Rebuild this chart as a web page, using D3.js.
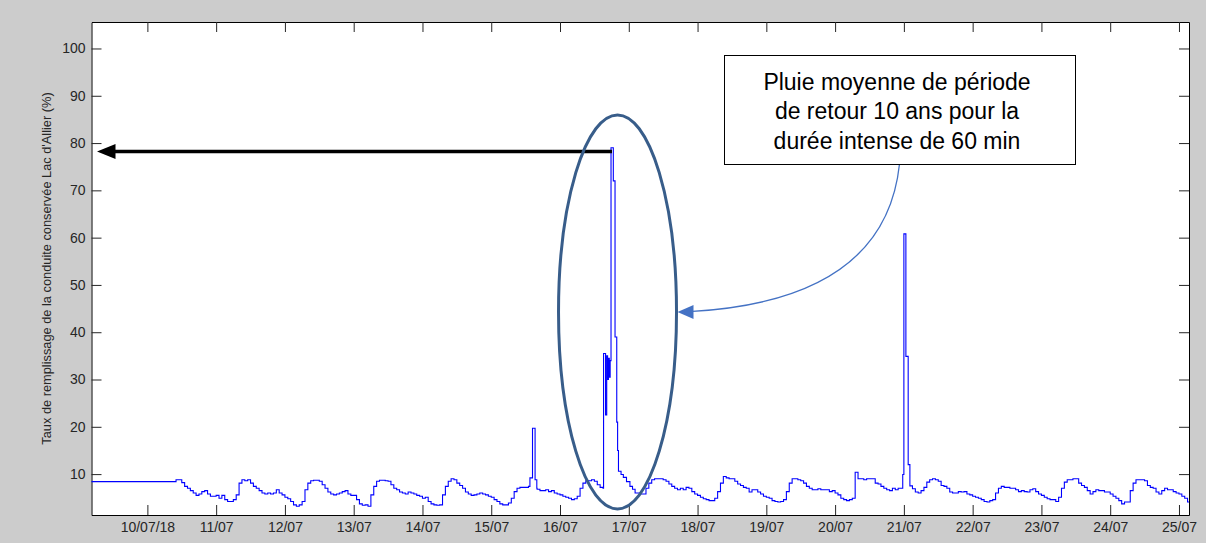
<!DOCTYPE html>
<html>
<head>
<meta charset="utf-8">
<script src="https://cdn.jsdelivr.net/npm/d3@7"></script>
<style>
  body { margin: 0; background: #cccccc; }
  svg { display: block; font-family: Arial, "Liberation Sans", sans-serif; }
</style>
</head>
<body>
<div class="graph"></div>
<script>
// taux de remplissage (%), relevé horaire ; chaque tableau commence à l'heure indiquée
let flatLevel = 8.4; // palier avant le 10/07 10h
let jul10 = [8.8, 8.8, 8.2, 7.4, 7.0, 6.5, 6.0, 5.5, 5.8, 6.3, 6.5, 5.8, 5.3, 5.3]; // dès 10h
let jul11 = [5.5, 4.9, 5.5, 4.6, 4.2, 4.2, 4.6, 5.6, 8.1, 8.8, 8.6, 8.8, 8.1, 7.4, 7.0, 6.5, 6.0, 5.8, 6.0, 5.8, 6.0, 6.7, 6.0, 5.6];
let jul12 = [5.1, 4.8, 4.2, 3.5, 3.2, 3.5, 4.2, 6.7, 8.1, 8.6, 8.7, 8.7, 8.5, 7.75, 7.0, 6.2, 5.8, 5.6, 5.8, 6.0, 6.3, 6.5, 5.8, 5.5];
let jul13 = [5.5, 4.6, 3.7, 3.4, 3.5, 3.2, 5.6, 7.4, 8.5, 8.7, 8.7, 8.6, 8.5, 7.75, 7.0, 6.7, 6.2, 6.0, 5.8, 6.2, 6.0, 5.8, 5.5, 5.3];
let jul14 = [4.9, 5.1, 4.2, 3.7, 3.5, 3.4, 3.5, 5.6, 7.4, 8.5, 9.0, 8.8, 8.1, 7.6, 7.0, 6.2, 5.8, 5.5, 5.6, 5.8, 6.0, 5.8, 5.6, 5.3];
let jul15 = [5.1, 4.6, 4.2, 3.7, 3.5, 3.5, 3.9, 4.9, 6.3, 7.0, 7.2, 7.2, 7.2, 7.4, 7.4, 7.2, 6.8, 6.5, 6.5, 6.7, 6.3, 6.5, 6.0, 5.8];
let jul16 = [5.6, 5.3, 5.1, 4.9, 4.6, 4.8, 5.3, 7.0, 8.1, 8.6, 8.6, 8.8, 8.5, 7.75, 7.2, 7.0]; // jusqu'à 15h
let jul17 = [6.0, 5.8, 5.8, 7.0, 8.1, 8.8, 9.0, 9.0, 9.0, 8.8, 8.5, 7.9, 7.4, 7.0, 6.7, 7.0, 6.7, 7.2, 7.0, 6.3, 5.8]; // dès 3h
let jul18 = [5.5, 5.1, 4.8, 4.6, 4.4, 4.4, 4.9, 6.3, 8.1, 9.5, 9.2, 9.0, 9.0, 8.5, 7.9, 7.6, 7.2, 7.0, 6.2, 6.7, 6.7, 6.2, 5.8, 5.3];
let jul19 = [5.1, 4.9, 4.4, 4.2, 4.1, 4.2, 4.6, 6.3, 8.1, 9.0, 9.0, 8.8, 8.6, 8.1, 7.4, 7.0, 6.7, 6.7, 6.9, 6.7, 6.7, 6.7, 6.3, 6.5];
let jul20 = [6.0, 5.6, 4.9, 4.6, 4.4, 4.6, 4.9, 10.4, 9.0, 9.0, 8.8, 9.0, 9.0, 9.0, 8.1, 7.9, 7.4, 7.0, 6.7, 6.5, 7.0, 6.7, 7.0, 7.0];
let jul21 = [6.9, 6.2, 6.0, 6.5, 7.2, 8.3, 8.8, 9.0, 8.8, 8.5, 7.6, 7.4, 7.0, 6.2, 6.0, 6.0, 6.3, 6.2, 6.3, 5.8, 5.6]; // dès 3h
let jul22 = [5.3, 5.1, 4.9, 4.6, 4.2, 4.1, 4.4, 4.6, 6.0, 7.0, 7.4, 7.2, 7.2, 7.0, 7.0, 6.7, 6.3, 6.5, 6.3, 6.2, 6.7, 6.9, 6.3, 5.8];
let jul23 = [5.5, 5.1, 4.8, 4.6, 4.6, 4.2, 5.1, 7.0, 8.3, 8.8, 8.8, 9.0, 9.0, 8.1, 7.6, 7.2, 6.5, 5.8, 6.3, 6.7, 6.5, 6.5, 6.2, 6.2];
let jul24 = [5.8, 5.3, 4.9, 4.4, 3.7, 4.1, 4.1, 6.5, 8.1, 8.8, 8.8, 8.8, 8.6, 7.6, 7.2, 7.0, 6.2, 5.8, 6.5, 7.0, 6.7, 6.7, 6.3, 6.0];
let jul25 = [5.8, 5.3, 4.9, 4.1];

// pointes (heure décimale du jour indiqué, valeur)
let spike15h = [13.5, 14.4, 15.3, 15.9];
let spike15v = [9.2, 19.7, 8.8, 7.0];
let storm16h = [15.2, 15.9, 16.3, 16.6, 16.9, 17.2, 17.5, 17.8, 18.6, 19.2, 19.8, 20.1, 20.4, 21.3, 22.1, 23.2, 24.4, 25.3, 26.2];
let storm16v = [35.5, 22.5, 35.0, 30.0, 34.5, 30.5, 34.0, 79.0, 72.0, 39.0, 21.0, 15.0, 10.6, 9.9, 9.3, 8.4, 7.4, 6.8, 6.0];
let spike20h = [23.6, 24.0, 24.7, 25.5, 26.1];
let spike20v = [9.9, 60.8, 34.9, 12.0, 7.5];

let dayLabels = ["10/07/18", "11/07", "12/07", "13/07", "14/07", "15/07", "16/07", "17/07",
  "18/07", "19/07", "20/07", "21/07", "22/07", "23/07", "24/07", "25/07"];
let yTicks = [10, 20, 30, 40, 50, 60, 70, 80, 90, 100];

let w = 1206;
let h = 543;
let mLeft = 91.5, mRight = 1189, mTop = 22, mBottom = 515;

function at(day, hour) {
  return new Date(2018, 6, day, 0, Math.round(hour * 60));
}

let startTime = at(9, 4.5);
let endTime = at(25, 3.5);

let data = [{ t: startTime, v: flatLevel }];
[[10, 10, jul10], [11, 0, jul11], [12, 0, jul12], [13, 0, jul13], [14, 0, jul14],
 [15, 0, jul15], [16, 0, jul16], [17, 3, jul17], [18, 0, jul18], [19, 0, jul19],
 [20, 0, jul20], [21, 3, jul21], [22, 0, jul22], [23, 0, jul23], [24, 0, jul24], [25, 0, jul25]]
  .forEach(function (d) {
    d[2].forEach(function (v, i) {
      data.push({ t: at(d[0], d[1] + i), v: v });
    });
  });

[[15, spike15h, spike15v], [16, storm16h, storm16v], [20, spike20h, spike20v]].forEach(function (e) {
  let t0 = at(e[0], e[1][0]), t1 = at(e[0], e[1][e[1].length - 1]);
  data = data.filter(function (d) { return d.t < t0 || d.t > t1; });
  e[1].forEach(function (hr, i) {
    data.push({ t: at(e[0], hr), v: e[2][i] });
  });
});
data.sort(function (a, b) { return a.t - b.t; });
data.push({ t: endTime, v: data[data.length - 1].v });

let xScale = d3.scaleTime().domain([startTime, endTime]).range([mLeft, mRight]);
let yScale = d3.scaleLinear().domain([1.35, 105.6]).range([mBottom, mTop]);
let dayTicks = dayLabels.map(function (l, i) { return at(10 + i, 0); });

let svg = d3.select(".graph").append("svg").attr("width", w).attr("height", h);

svg.append("rect")
  .attr("x", mLeft).attr("y", mTop)
  .attr("width", mRight - mLeft).attr("height", mBottom - mTop)
  .attr("fill", "#ffffff");

let xAxis = d3.axisBottom(xScale).tickValues(dayTicks)
  .tickFormat(function (d, i) { return dayLabels[i]; })
  .tickSizeInner(-10).tickSizeOuter(0).tickPadding(7);
let xAxisTop = d3.axisTop(xScale).tickValues(dayTicks).tickFormat("")
  .tickSizeInner(-10).tickSizeOuter(0);
let yAxis = d3.axisLeft(yScale).tickValues(yTicks)
  .tickSizeInner(-10).tickSizeOuter(0).tickPadding(6);
let yAxisRight = d3.axisRight(yScale).tickValues(yTicks).tickFormat("")
  .tickSizeInner(-10).tickSizeOuter(0);

function styleAxis(g) {
  g.selectAll("path").attr("stroke", "#000").attr("stroke-width", 1);
  g.selectAll("line").attr("stroke", "#262626");
  g.selectAll("text").attr("fill", "#262626").style("font-size", "14px");
}

svg.append("g").attr("transform", "translate(0," + mBottom + ")").call(xAxis).call(styleAxis);
svg.append("g").attr("transform", "translate(0," + mTop + ")").call(xAxisTop).call(styleAxis);
svg.append("g").attr("transform", "translate(" + mLeft + ",0)").call(yAxis).call(styleAxis);
svg.append("g").attr("transform", "translate(" + mRight + ",0)").call(yAxisRight).call(styleAxis);

svg.append("text")
  .attr("transform", "translate(51," + (mTop + mBottom) / 2 + ") rotate(-90)")
  .attr("text-anchor", "middle")
  .attr("fill", "#262626")
  .style("font-size", "12.8px")
  .text("Taux de remplissage de la conduite conservée Lac d'Allier (%)");

let line = d3.line()
  .x(function (d) { return xScale(d.t); })
  .y(function (d) { return yScale(d.v); })
  .curve(d3.curveStepAfter);

svg.append("path")
  .datum(data)
  .attr("d", line)
  .attr("fill", "none")
  .attr("stroke", "#0000ff")
  .attr("stroke-width", 1.1);

// annotations
let peak = data.reduce(function (a, b) { return b.v > a.v ? b : a; });
let arrowY = yScale(78.2);
svg.append("line")
  .attr("x1", xScale(peak.t) + 1).attr("y1", arrowY)
  .attr("x2", mLeft + 20).attr("y2", arrowY)
  .attr("stroke", "#000").attr("stroke-width", 3.5);
svg.append("path")
  .attr("d", "M" + (mLeft + 5.5) + "," + arrowY + "L" + (mLeft + 24) + "," + (arrowY - 7.5) +
    "L" + (mLeft + 24) + "," + (arrowY + 7.5) + "Z")
  .attr("fill", "#000");

let ex = xScale(at(16, 20.07)), ey = yScale(44.3);
svg.append("ellipse")
  .attr("cx", ex).attr("cy", ey).attr("rx", 59).attr("ry", 197)
  .attr("fill", "none").attr("stroke", "#385d8a").attr("stroke-width", 3);

let bx = 724, by = 55, bw = 351, bh = 109;
svg.append("path")
  .attr("d", "M" + (bx + 175.5) + "," + (by + bh) + "Q885,300 " + (ex + 75) + "," + (ey - 0.5))
  .attr("fill", "none").attr("stroke", "#4472c4").attr("stroke-width", 1.3);
svg.append("path")
  .attr("d", "M" + (ex + 60) + "," + ey + "L" + (ex + 76) + "," + (ey - 7) +
    "L" + (ex + 76) + "," + (ey + 7) + "Z")
  .attr("fill", "#4472c4");

svg.append("rect")
  .attr("x", bx + 0.5).attr("y", by + 0.5).attr("width", bw).attr("height", bh)
  .attr("fill", "#fff").attr("stroke", "#000").attr("stroke-width", 1);
["Pluie moyenne de période", "de retour 10 ans pour la", "durée intense de 60 min"]
  .forEach(function (s, i) {
    svg.append("text")
      .attr("x", bx + 173).attr("y", by + 35 + i * 29.3)
      .attr("text-anchor", "middle")
      .attr("fill", "#000")
      .style("font-size", "23px")
      .text(s);
  });
</script>
</body>
</html>
